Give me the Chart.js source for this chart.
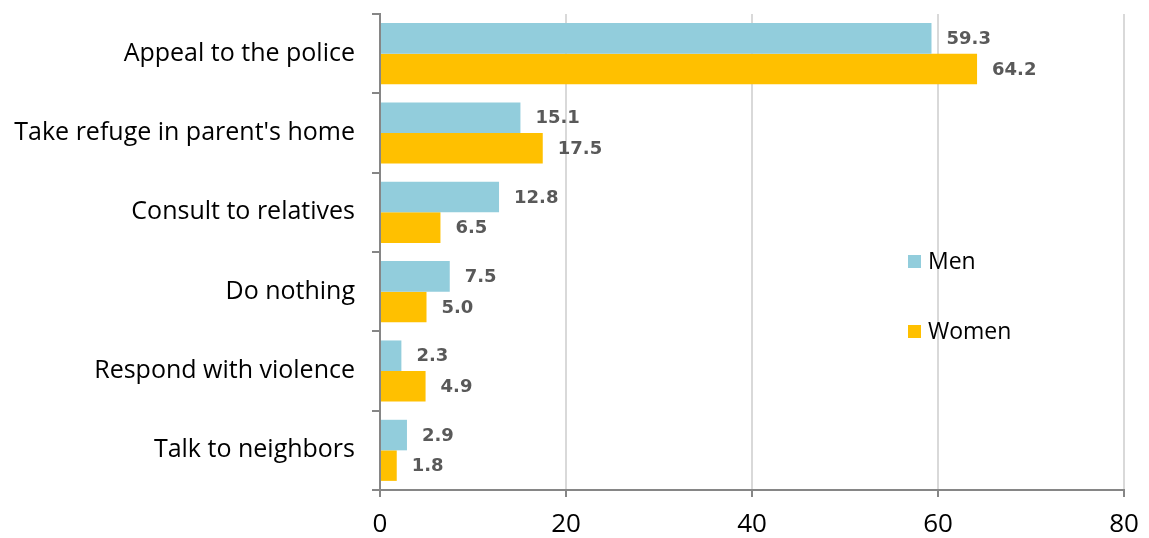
<!DOCTYPE html>
<html lang="en">
<head>
    <meta charset="UTF-8">
    <title>Reactions to violence</title>
    <script src="https://cdn.jsdelivr.net/npm/chart.js"></script>
    <style>
        html, body { margin: 0; padding: 0; background: #fff; }
        #wrap { width: 1149px; height: 538px; position: relative; }
    </style>
</head>
<body>
    <div id="wrap"><canvas id="chart"></canvas></div>

    <script>
        const categories = [
            'Appeal to the police',
            "Take refuge in parent's home",
            'Consult to relatives',
            'Do nothing',
            'Respond with violence',
            'Talk to neighbors'
        ];
        const men = [59.3, 15.1, 12.8, 7.5, 2.3, 2.9];
        const women = [64.2, 17.5, 6.5, 5.0, 4.9, 1.8];
        const xTicks = [0, 20, 40, 60, 80];

        const MEN_COLOR = '#92CDDC';
        const WOMEN_COLOR = '#FFC000';
        const FONT = "'Open Sans', 'Liberation Sans', Arial, sans-serif";

        // value labels to the right of each bar
        const valueLabels = {
            id: 'valueLabels',
            afterDatasetsDraw(chart) {
                const ctx = chart.ctx;
                ctx.save();
                ctx.font = "bold 18px 'DejaVu Sans', sans-serif";
                ctx.fillStyle = '#595959';
                ctx.textBaseline = 'middle';
                ctx.textAlign = 'left';
                chart.data.datasets.forEach((ds, i) => {
                    chart.getDatasetMeta(i).data.forEach((bar, j) => {
                        ctx.fillText(ds.data[j].toFixed(1), bar.x + 15, bar.y + 1);
                    });
                });
                ctx.restore();
            }
        };

        // legend stacked vertically inside the plot, right side
        const sideLegend = {
            id: 'sideLegend',
            afterDraw(chart) {
                const ctx = chart.ctx;
                const x = 908;
                const rows = [
                    { label: 'Men', color: MEN_COLOR, y: 262 },
                    { label: 'Women', color: WOMEN_COLOR, y: 332 }
                ];
                ctx.save();
                ctx.font = '23px ' + FONT;
                ctx.textBaseline = 'middle';
                rows.forEach(r => {
                    ctx.fillStyle = r.color;
                    ctx.fillRect(x, r.y - 7, 13, 13);
                    ctx.fillStyle = '#000';
                    ctx.fillText(r.label, x + 20, r.y);
                });
                ctx.restore();
            }
        };

        new Chart(document.getElementById('chart'), {
            type: 'bar',
            data: {
                labels: categories,
                datasets: [
                    { label: 'Men', data: men, backgroundColor: MEN_COLOR },
                    { label: 'Women', data: women, backgroundColor: WOMEN_COLOR }
                ]
            },
            options: {
                indexAxis: 'y',
                responsive: true,
                maintainAspectRatio: false,
                animation: false,
                layout: { padding: { top: 14, right: 25, left: 0, bottom: 0 } },
                datasets: {
                    bar: { barPercentage: 1, categoryPercentage: 0.77 }
                },
                plugins: {
                    legend: { display: false },
                    tooltip: { enabled: false }
                },
                scales: {
                    x: {
                        min: 0,
                        max: 80,
                        afterBuildTicks: axis => { axis.ticks = xTicks.map(v => ({ value: v })); },
                        afterFit: axis => {
                            axis.height = 48;
                            axis.paddingLeft = 0;
                            axis.paddingRight = 0;
                        },
                        grid: {
                            color: ctx => ctx.tick && ctx.tick.value === 0 ? '#868686' : '#d9d9d9',
                            lineWidth: 2,
                            tickColor: '#868686',
                            tickLength: 7
                        },
                        border: { color: '#868686', width: 2 },
                        ticks: {
                            color: '#000',
                            font: { family: FONT, size: 26 },
                            padding: 12
                        }
                    },
                    y: {
                        afterFit: axis => {
                            axis.width = 380;
                            axis.paddingTop = 0;
                            axis.paddingBottom = 0;
                        },
                        grid: {
                            offset: true,
                            drawOnChartArea: false,
                            tickColor: '#868686',
                            tickLength: 8,
                            lineWidth: 2
                        },
                        border: { color: '#868686', width: 2 },
                        ticks: {
                            color: '#000',
                            font: { family: FONT, size: 25 },
                            padding: 17
                        }
                    }
                }
            },
            plugins: [valueLabels, sideLegend]
        });
    </script>
</body>
</html>
